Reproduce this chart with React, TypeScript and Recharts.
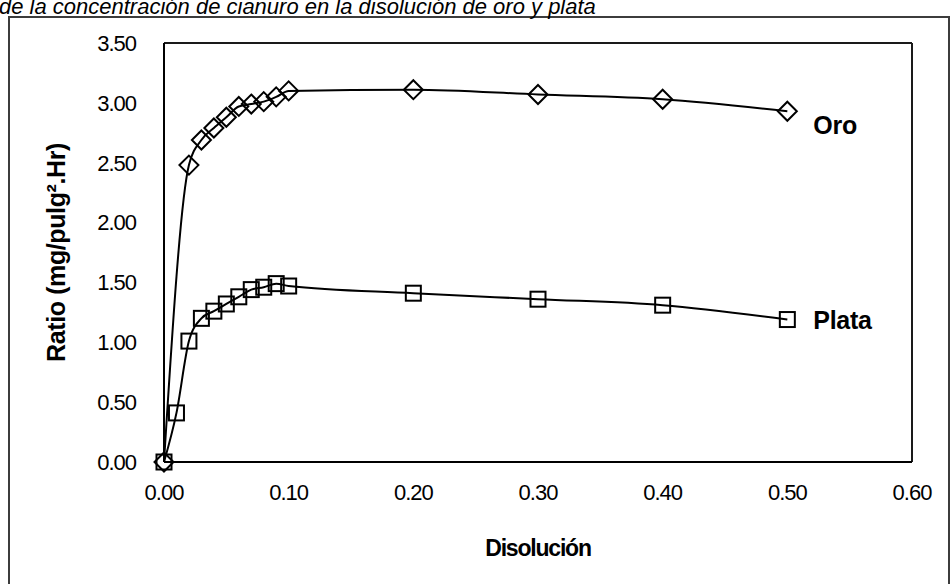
import React from 'react';
import { LineChart, Line, XAxis, YAxis, ReferenceLine, LabelList, Label } from 'recharts';

// Disolución (x) y ratio (y) por serie
const oroX = [0, 0.02, 0.03, 0.04, 0.05, 0.06, 0.07, 0.08, 0.09, 0.1, 0.2, 0.3, 0.4, 0.5];
const oroY = [0, 2.48, 2.69, 2.79, 2.88, 2.97, 2.99, 3.01, 3.05, 3.1, 3.11, 3.07, 3.03, 2.93];

const plataX = [0, 0.01, 0.02, 0.03, 0.04, 0.05, 0.06, 0.07, 0.08, 0.09, 0.1, 0.2, 0.3, 0.4, 0.5];
const plataY = [0, 0.41, 1.01, 1.2, 1.26, 1.32, 1.38, 1.44, 1.46, 1.49, 1.47, 1.41, 1.36, 1.31, 1.19];

const xTicks = [0, 0.1, 0.2, 0.3, 0.4, 0.5, 0.6];
const yTicks = [0, 0.5, 1, 1.5, 2, 2.5, 3, 3.5];

const title = 'de la concentración de cianuro en la disolución de oro y plata';
const xTitle = 'Disolución';
const yTitle = 'Ratio (mg/pulg².Hr)';

const FONT = '"Liberation Sans", Arial, sans-serif';

const oroData = oroX.map((x, i) => ({ x, y: oroY[i] }));
const plataData = plataX.map((x, i) => ({ x, y: plataY[i] }));

const Diamond = (props: any) => {
  const { cx, cy } = props;
  if (cx == null || cy == null) return null;
  const r = 9.5;
  return (
    <path
      d={`M${cx},${cy - r}L${cx + r},${cy}L${cx},${cy + r}L${cx - r},${cy}Z`}
      fill="none"
      stroke="#000"
      strokeWidth={2}
    />
  );
};

const Square = (props: any) => {
  const { cx, cy } = props;
  if (cx == null || cy == null) return null;
  const s = 15;
  return <rect x={cx - s / 2} y={cy - s / 2} width={s} height={s} fill="none" stroke="#000" strokeWidth={2} />;
};

const endLabel = (text: string, last: number, dy: number) => (props: any) => {
  const { x, y, index } = props;
  if (index !== last) return null;
  return (
    <text
      x={x + 26}
      y={y + dy}
      fontFamily={FONT}
      fontSize={25}
      fontWeight="bold"
      letterSpacing={-0.3}
      fill="#000"
      dominantBaseline="central"
    >
      {text}
    </text>
  );
};

const YTitle = (props: any) => {
  const { viewBox } = props;
  const cx = viewBox.x + 56;
  const cy = viewBox.y + viewBox.height / 2;
  return (
    <text
      x={cx}
      y={cy}
      transform={`rotate(-90, ${cx}, ${cy})`}
      textAnchor="middle"
      dominantBaseline="central"
      fontFamily={FONT}
      fontSize={25}
      fontWeight="bold"
      letterSpacing={-0.4}
      fill="#000"
    >
      {yTitle}
    </text>
  );
};

const XTitle = (props: any) => {
  const { viewBox } = props;
  return (
    <text
      x={viewBox.x + viewBox.width / 2}
      y={viewBox.y + 86}
      textAnchor="middle"
      dominantBaseline="central"
      fontFamily={FONT}
      fontSize={23}
      fontWeight="bold"
      letterSpacing={-1.2}
      fill="#000"
    >
      {xTitle}
    </text>
  );
};

const tickStyle = { fontFamily: FONT, fontSize: 22, fill: '#000', letterSpacing: -1 };

export default function App() {
  return (
    <div style={{ position: 'fixed', left: 0, top: 0, width: 952, height: 584, overflow: 'hidden', background: '#fff' }}>
      <div
        style={{
          position: 'absolute',
          left: 8,
          top: 16,
          width: 938,
          height: 620,
          border: '2px solid #3c3c3c',
        }}
      />
      <div
        style={{
          position: 'absolute',
          left: -1,
          top: -6,
          fontFamily: FONT,
          fontStyle: 'italic',
          fontSize: 22,
          whiteSpace: 'nowrap',
          color: '#000',
        }}
      >
        {title}
      </div>
      <LineChart
        width={952}
        height={584}
        margin={{ top: 43, right: 40, bottom: 0, left: 0 }}
        style={{ position: 'absolute', left: 0, top: 0 }}
      >
        <XAxis
          dataKey="x"
          type="number"
          domain={[0, 0.6]}
          ticks={xTicks}
          height={122}
          tickFormatter={(v: number) => v.toFixed(2)}
          tick={tickStyle}
          tickLine={false}
          tickSize={6}
          tickMargin={16}
          axisLine={{ stroke: '#000', strokeWidth: 2 }}
        >
          <Label content={XTitle} />
        </XAxis>
        <YAxis
          dataKey="y"
          type="number"
          domain={[0, 3.5]}
          ticks={yTicks}
          width={164}
          tickFormatter={(v: number) => v.toFixed(2)}
          tick={tickStyle}
          tickLine={false}
          tickSize={6}
          tickMargin={22}
          axisLine={{ stroke: '#000', strokeWidth: 2 }}
        >
          <Label content={YTitle} />
        </YAxis>
        <ReferenceLine y={3.5} stroke="#1a1a1a" strokeWidth={2} />
        <ReferenceLine x={0.6} stroke="#1a1a1a" strokeWidth={2} />
        <Line
          data={plataData}
          dataKey="y"
          type="monotone"
          stroke="#000"
          strokeWidth={2}
          dot={<Square />}
          activeDot={false}
          isAnimationActive={false}
        >
          <LabelList dataKey="y" content={endLabel('Plata', plataData.length - 1, 0)} />
        </Line>
        <Line
          data={oroData}
          dataKey="y"
          type="monotone"
          stroke="#000"
          strokeWidth={2}
          dot={<Diamond />}
          activeDot={false}
          isAnimationActive={false}
        >
          <LabelList dataKey="y" content={endLabel('Oro', oroData.length - 1, 14)} />
        </Line>
      </LineChart>
    </div>
  );
}
